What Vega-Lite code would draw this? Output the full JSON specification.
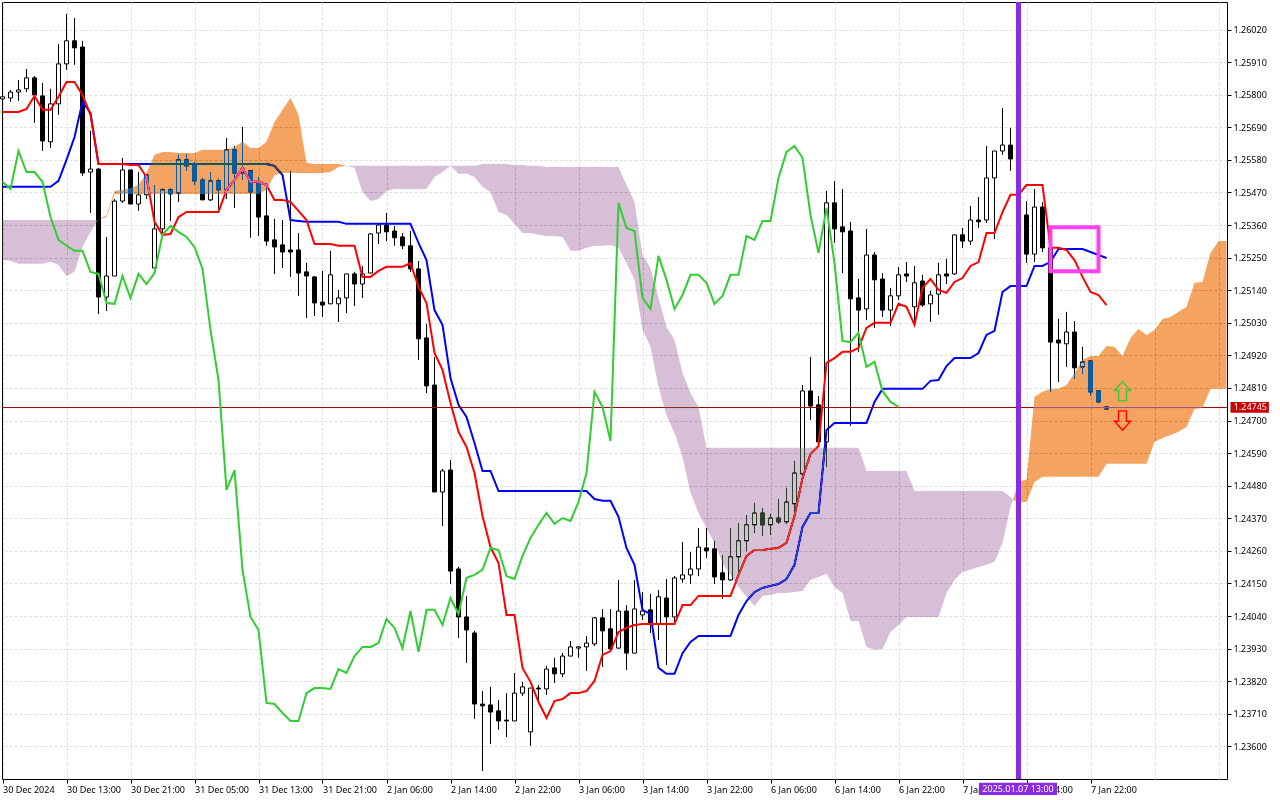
{
"$schema":"https://vega.github.io/schema/vega-lite/v6.json",
"width":1225,"height":777,
"autosize":"none",
"padding":{"left":2,"top":2,"right":53,"bottom":21},
"background":"white",
"config":{"view":{"stroke":"black","strokeWidth":1},
 "scale":{"continuousPadding":0},
 "axis":{"labelFont":"Noto Sans","labelFontSize":9,"labelColor":"black","tickColor":"black","domain":false,"title":null,
  "grid":true,"gridColor":"#dedede","gridDash":[3,2],"gridWidth":1,"tickSize":4,"labelOverlap":false,"labelBound":false,"labelFlush":false}},
"datasets":{
"bars":[
{"bar":0,"open":1.25786,"high":1.25796,"low":1.25782,"close":1.25793,"tenkan":1.25742,"kijun":1.25489,"chikou":1.25506},
{"bar":1,"open":1.25789,"high":1.25816,"low":1.25776,"close":1.25809,"tenkan":1.25742,"kijun":1.25489,"chikou":1.25482},
{"bar":2,"open":1.25809,"high":1.25850,"low":1.25779,"close":1.25816,"tenkan":1.25742,"kijun":1.25489,"chikou":1.25610},
{"bar":3,"open":1.25820,"high":1.25887,"low":1.25809,"close":1.25857,"tenkan":1.25752,"kijun":1.25489,"chikou":1.25539},
{"bar":4,"open":1.25857,"high":1.25863,"low":1.25705,"close":1.25799,"tenkan":1.25796,"kijun":1.25489,"chikou":1.25539},
{"bar":5,"open":1.25796,"high":1.25840,"low":1.25610,"close":1.25644,"tenkan":1.25749,"kijun":1.25489,"chikou":1.25506},
{"bar":6,"open":1.25641,"high":1.25820,"low":1.25620,"close":1.25769,"tenkan":1.25749,"kijun":1.25489,"chikou":1.25387},
{"bar":7,"open":1.25769,"high":1.25971,"low":1.25732,"close":1.25904,"tenkan":1.25793,"kijun":1.25509,"chikou":1.25310},
{"bar":8,"open":1.25904,"high":1.26073,"low":1.25884,"close":1.25982,"tenkan":1.25843,"kijun":1.25580,"chikou":1.25290},
{"bar":9,"open":1.25982,"high":1.26059,"low":1.25901,"close":1.25958,"tenkan":1.25843,"kijun":1.25657,"chikou":1.25273},
{"bar":10,"open":1.25961,"high":1.25982,"low":1.25526,"close":1.25536,"tenkan":1.25799,"kijun":1.25776,"chikou":1.25273},
{"bar":11,"open":1.25539,"high":1.25678,"low":1.25401,"close":1.25549,"tenkan":1.25732,"kijun":1.25739,"chikou":1.25202},
{"bar":12,"open":1.25549,"high":1.25553,"low":1.25060,"close":1.25117,"tenkan":1.25566,"kijun":1.25566,"chikou":1.25195},
{"bar":13,"open":1.25117,"high":1.25320,"low":1.25070,"close":1.25188,"tenkan":1.25566,"kijun":1.25566,"chikou":1.25097},
{"bar":14,"open":1.25188,"high":1.25448,"low":1.25188,"close":1.25441,"tenkan":1.25566,"kijun":1.25566,"chikou":1.25094},
{"bar":15,"open":1.25441,"high":1.25587,"low":1.25435,"close":1.25546,"tenkan":1.25566,"kijun":1.25566,"chikou":1.25188},
{"bar":16,"open":1.25546,"high":1.25546,"low":1.25431,"close":1.25431,"tenkan":1.25563,"kijun":1.25566,"chikou":1.25114},
{"bar":17,"open":1.25431,"high":1.25539,"low":1.25408,"close":1.25462,"tenkan":1.25563,"kijun":1.25566,"chikou":1.25195},
{"bar":18,"open":1.25462,"high":1.25529,"low":1.25448,"close":1.25529,"tenkan":1.25522,"kijun":1.25566,"chikou":1.25161},
{"bar":19,"open":1.25215,"high":1.25495,"low":1.25215,"close":1.25347,"tenkan":1.25371,"kijun":1.25566,"chikou":1.25198},
{"bar":20,"open":1.25347,"high":1.25485,"low":1.25320,"close":1.25479,"tenkan":1.25327,"kijun":1.25566,"chikou":1.25327},
{"bar":21,"open":1.25479,"high":1.25485,"low":1.25374,"close":1.25465,"tenkan":1.25330,"kijun":1.25566,"chikou":1.25357},
{"bar":22,"open":1.25468,"high":1.25597,"low":1.25438,"close":1.25580,"tenkan":1.25387,"kijun":1.25566,"chikou":1.25337},
{"bar":23,"open":1.25580,"high":1.25600,"low":1.25543,"close":1.25560,"tenkan":1.25404,"kijun":1.25566,"chikou":1.25320},
{"bar":24,"open":1.25563,"high":1.25573,"low":1.25495,"close":1.25509,"tenkan":1.25404,"kijun":1.25566,"chikou":1.25286},
{"bar":25,"open":1.25512,"high":1.25519,"low":1.25445,"close":1.25445,"tenkan":1.25404,"kijun":1.25566,"chikou":1.25212},
{"bar":26,"open":1.25445,"high":1.25539,"low":1.25441,"close":1.25509,"tenkan":1.25404,"kijun":1.25566,"chikou":1.25006},
{"bar":27,"open":1.25509,"high":1.25516,"low":1.25414,"close":1.25479,"tenkan":1.25404,"kijun":1.25566,"chikou":1.24837},
{"bar":28,"open":1.25479,"high":1.25654,"low":1.25448,"close":1.25614,"tenkan":1.25479,"kijun":1.25566,"chikou":1.24466},
{"bar":29,"open":1.25614,"high":1.25627,"low":1.25418,"close":1.25536,"tenkan":1.25512,"kijun":1.25566,"chikou":1.24533},
{"bar":30,"open":1.25536,"high":1.25691,"low":1.25512,"close":1.25549,"tenkan":1.25553,"kijun":1.25566,"chikou":1.24196},
{"bar":31,"open":1.25543,"high":1.25543,"low":1.25317,"close":1.25472,"tenkan":1.25506,"kijun":1.25566,"chikou":1.24037},
{"bar":32,"open":1.25502,"high":1.25522,"low":1.25323,"close":1.25387,"tenkan":1.25506,"kijun":1.25566,"chikou":1.23993},
{"bar":33,"open":1.25391,"high":1.25502,"low":1.25290,"close":1.25306,"tenkan":1.25495,"kijun":1.25566,"chikou":1.23747},
{"bar":34,"open":1.25310,"high":1.25381,"low":1.25195,"close":1.25286,"tenkan":1.25445,"kijun":1.25560,"chikou":1.23743},
{"bar":35,"open":1.25293,"high":1.25377,"low":1.25215,"close":1.25269,"tenkan":1.25445,"kijun":1.25529,"chikou":1.23713},
{"bar":36,"open":1.25276,"high":1.25543,"low":1.25185,"close":1.25269,"tenkan":1.25438,"kijun":1.25377,"chikou":1.23686},
{"bar":37,"open":1.25276,"high":1.25333,"low":1.25121,"close":1.25198,"tenkan":1.25408,"kijun":1.25374,"chikou":1.23686},
{"bar":38,"open":1.25202,"high":1.25232,"low":1.25046,"close":1.25188,"tenkan":1.25377,"kijun":1.25371,"chikou":1.23780},
{"bar":39,"open":1.25185,"high":1.25188,"low":1.25053,"close":1.25097,"tenkan":1.25296,"kijun":1.25371,"chikou":1.23797},
{"bar":40,"open":1.25100,"high":1.25205,"low":1.25050,"close":1.25090,"tenkan":1.25296,"kijun":1.25371,"chikou":1.23797},
{"bar":41,"open":1.25094,"high":1.25273,"low":1.25094,"close":1.25192,"tenkan":1.25296,"kijun":1.25371,"chikou":1.23794},
{"bar":42,"open":1.25094,"high":1.25141,"low":1.25033,"close":1.25114,"tenkan":1.25290,"kijun":1.25371,"chikou":1.23861},
{"bar":43,"open":1.25114,"high":1.25195,"low":1.25063,"close":1.25195,"tenkan":1.25290,"kijun":1.25364,"chikou":1.23848},
{"bar":44,"open":1.25195,"high":1.25202,"low":1.25087,"close":1.25161,"tenkan":1.25290,"kijun":1.25364,"chikou":1.23905},
{"bar":45,"open":1.25161,"high":1.25222,"low":1.25114,"close":1.25195,"tenkan":1.25185,"kijun":1.25364,"chikou":1.23936},
{"bar":46,"open":1.25198,"high":1.25333,"low":1.25198,"close":1.25330,"tenkan":1.25185,"kijun":1.25364,"chikou":1.23936},
{"bar":47,"open":1.25333,"high":1.25364,"low":1.25296,"close":1.25360,"tenkan":1.25205,"kijun":1.25364,"chikou":1.23949},
{"bar":48,"open":1.25360,"high":1.25401,"low":1.25306,"close":1.25337,"tenkan":1.25219,"kijun":1.25364,"chikou":1.24030},
{"bar":49,"open":1.25340,"high":1.25357,"low":1.25290,"close":1.25317,"tenkan":1.25219,"kijun":1.25364,"chikou":1.24000},
{"bar":50,"open":1.25320,"high":1.25333,"low":1.25279,"close":1.25290,"tenkan":1.25219,"kijun":1.25364,"chikou":1.23932},
{"bar":51,"open":1.25290,"high":1.25340,"low":1.25202,"close":1.25212,"tenkan":1.25232,"kijun":1.25364,"chikou":1.24057},
{"bar":52,"open":1.25212,"high":1.25239,"low":1.24905,"close":1.24976,"tenkan":1.25151,"kijun":1.25300,"chikou":1.23919},
{"bar":53,"open":1.24979,"high":1.25026,"low":1.24793,"close":1.24817,"tenkan":1.25097,"kijun":1.25242,"chikou":1.24061},
{"bar":54,"open":1.24820,"high":1.24915,"low":1.24459,"close":1.24459,"tenkan":1.24928,"kijun":1.25073,"chikou":1.24061},
{"bar":55,"open":1.24459,"high":1.24537,"low":1.24344,"close":1.24530,"tenkan":1.24871,"kijun":1.25023,"chikou":1.24010},
{"bar":56,"open":1.24533,"high":1.24567,"low":1.24148,"close":1.24192,"tenkan":1.24759,"kijun":1.24844,"chikou":1.24101},
{"bar":57,"open":1.24199,"high":1.24206,"low":1.23966,"close":1.24037,"tenkan":1.24662,"kijun":1.24753,"chikou":1.24047},
{"bar":58,"open":1.24037,"high":1.24108,"low":1.23882,"close":1.23993,"tenkan":1.24611,"kijun":1.24712,"chikou":1.24169},
{"bar":59,"open":1.23983,"high":1.23990,"low":1.23693,"close":1.23743,"tenkan":1.24523,"kijun":1.24624,"chikou":1.24179},
{"bar":60,"open":1.23743,"high":1.23787,"low":1.23517,"close":1.23737,"tenkan":1.24378,"kijun":1.24530,"chikou":1.24196},
{"bar":61,"open":1.23740,"high":1.23801,"low":1.23608,"close":1.23716,"tenkan":1.24273,"kijun":1.24530,"chikou":1.24270},
{"bar":62,"open":1.23720,"high":1.23757,"low":1.23656,"close":1.23686,"tenkan":1.24219,"kijun":1.24462,"chikou":1.24263},
{"bar":63,"open":1.23689,"high":1.23780,"low":1.23632,"close":1.23686,"tenkan":1.24044,"kijun":1.24462,"chikou":1.24175},
{"bar":64,"open":1.23686,"high":1.23848,"low":1.23686,"close":1.23780,"tenkan":1.24044,"kijun":1.24462,"chikou":1.24165},
{"bar":65,"open":1.23780,"high":1.23818,"low":1.23770,"close":1.23801,"tenkan":1.23865,"kijun":1.24462,"chikou":1.24243},
{"bar":66,"open":1.23649,"high":1.23797,"low":1.23602,"close":1.23797,"tenkan":1.23818,"kijun":1.24462,"chikou":1.24304},
{"bar":67,"open":1.23797,"high":1.23807,"low":1.23757,"close":1.23794,"tenkan":1.23750,"kijun":1.24462,"chikou":1.24348},
{"bar":68,"open":1.23794,"high":1.23872,"low":1.23774,"close":1.23861,"tenkan":1.23696,"kijun":1.24462,"chikou":1.24388},
{"bar":69,"open":1.23865,"high":1.23899,"low":1.23814,"close":1.23845,"tenkan":1.23753,"kijun":1.24462,"chikou":1.24351},
{"bar":70,"open":1.23845,"high":1.23915,"low":1.23834,"close":1.23905,"tenkan":1.23760,"kijun":1.24462,"chikou":1.24371},
{"bar":71,"open":1.23905,"high":1.23956,"low":1.23905,"close":1.23936,"tenkan":1.23780,"kijun":1.24462,"chikou":1.24361},
{"bar":72,"open":1.23932,"high":1.23939,"low":1.23899,"close":1.23936,"tenkan":1.23780,"kijun":1.24462,"chikou":1.24425},
{"bar":73,"open":1.23936,"high":1.23973,"low":1.23855,"close":1.23949,"tenkan":1.23787,"kijun":1.24462,"chikou":1.24523},
{"bar":74,"open":1.23946,"high":1.24037,"low":1.23939,"close":1.24034,"tenkan":1.23821,"kijun":1.24435,"chikou":1.24797},
{"bar":75,"open":1.24034,"high":1.24064,"low":1.23868,"close":1.23990,"tenkan":1.23909,"kijun":1.24429,"chikou":1.24746},
{"bar":76,"open":1.23997,"high":1.24064,"low":1.23926,"close":1.23929,"tenkan":1.23922,"kijun":1.24429,"chikou":1.24631},
{"bar":77,"open":1.23932,"high":1.24162,"low":1.23929,"close":1.24057,"tenkan":1.23986,"kijun":1.24375,"chikou":1.25435},
{"bar":78,"open":1.24057,"high":1.24077,"low":1.23858,"close":1.23915,"tenkan":1.24000,"kijun":1.24270,"chikou":1.25350},
{"bar":79,"open":1.23915,"high":1.24162,"low":1.23915,"close":1.24064,"tenkan":1.24010,"kijun":1.24213,"chikou":1.25340},
{"bar":80,"open":1.24044,"high":1.24121,"low":1.24027,"close":1.24057,"tenkan":1.24013,"kijun":1.24061,"chikou":1.25114},
{"bar":81,"open":1.24061,"high":1.24115,"low":1.23983,"close":1.24013,"tenkan":1.24013,"kijun":1.24047,"chikou":1.25077},
{"bar":82,"open":1.24013,"high":1.24128,"low":1.23959,"close":1.24105,"tenkan":1.24013,"kijun":1.23865,"chikou":1.25256},
{"bar":83,"open":1.24101,"high":1.24165,"low":1.23875,"close":1.24037,"tenkan":1.24013,"kijun":1.23845,"chikou":1.25175},
{"bar":84,"open":1.24037,"high":1.24175,"low":1.24020,"close":1.24169,"tenkan":1.24013,"kijun":1.23845,"chikou":1.25077},
{"bar":85,"open":1.24165,"high":1.24290,"low":1.24152,"close":1.24179,"tenkan":1.24077,"kijun":1.23915,"chikou":1.25124},
{"bar":86,"open":1.24179,"high":1.24256,"low":1.24148,"close":1.24199,"tenkan":1.24077,"kijun":1.23953,"chikou":1.25192},
{"bar":87,"open":1.24199,"high":1.24337,"low":1.24175,"close":1.24273,"tenkan":1.24108,"kijun":1.23973,"chikou":1.25192},
{"bar":88,"open":1.24270,"high":1.24337,"low":1.24236,"close":1.24260,"tenkan":1.24108,"kijun":1.23973,"chikou":1.25165},
{"bar":89,"open":1.24267,"high":1.24294,"low":1.24148,"close":1.24172,"tenkan":1.24108,"kijun":1.23973,"chikou":1.25094},
{"bar":90,"open":1.24186,"high":1.24246,"low":1.24098,"close":1.24162,"tenkan":1.24108,"kijun":1.23973,"chikou":1.25121},
{"bar":91,"open":1.24162,"high":1.24337,"low":1.24159,"close":1.24240,"tenkan":1.24108,"kijun":1.23973,"chikou":1.25192},
{"bar":92,"open":1.24240,"high":1.24354,"low":1.24186,"close":1.24294,"tenkan":1.24179,"kijun":1.24044,"chikou":1.25192},
{"bar":93,"open":1.24294,"high":1.24381,"low":1.24260,"close":1.24348,"tenkan":1.24243,"kijun":1.24091,"chikou":1.25323},
{"bar":94,"open":1.24348,"high":1.24422,"low":1.24321,"close":1.24388,"tenkan":1.24263,"kijun":1.24121,"chikou":1.25310},
{"bar":95,"open":1.24388,"high":1.24405,"low":1.24310,"close":1.24348,"tenkan":1.24263,"kijun":1.24135,"chikou":1.25374},
{"bar":96,"open":1.24348,"high":1.24385,"low":1.24314,"close":1.24371,"tenkan":1.24267,"kijun":1.24142,"chikou":1.25374},
{"bar":97,"open":1.24371,"high":1.24435,"low":1.24351,"close":1.24358,"tenkan":1.24270,"kijun":1.24148,"chikou":1.25519},
{"bar":98,"open":1.24358,"high":1.24473,"low":1.24351,"close":1.24425,"tenkan":1.24287,"kijun":1.24165,"chikou":1.25607},
{"bar":99,"open":1.24419,"high":1.24564,"low":1.24375,"close":1.24523,"tenkan":1.24378,"kijun":1.24213,"chikou":1.25627},
{"bar":100,"open":1.24520,"high":1.24820,"low":1.24520,"close":1.24800,"tenkan":1.24506,"kijun":1.24341,"chikou":1.25587},
{"bar":101,"open":1.24800,"high":1.24915,"low":1.24702,"close":1.24749,"tenkan":1.24587,"kijun":1.24388,"chikou":1.25394},
{"bar":102,"open":1.24753,"high":1.24783,"low":1.24628,"close":1.24628,"tenkan":1.24614,"kijun":1.24388,"chikou":1.25266},
{"bar":103,"open":1.24628,"high":1.25475,"low":1.24543,"close":1.25435,"tenkan":1.24895,"kijun":1.24668,"chikou":1.25418},
{"bar":104,"open":1.25435,"high":1.25509,"low":1.25300,"close":1.25347,"tenkan":1.24911,"kijun":1.24692,"chikou":1.25232},
{"bar":105,"open":1.25354,"high":1.25482,"low":1.25198,"close":1.25337,"tenkan":1.24932,"kijun":1.24692,"chikou":1.24969},
{"bar":106,"open":1.25340,"high":1.25371,"low":1.24682,"close":1.25111,"tenkan":1.24932,"kijun":1.24692,"chikou":1.24965},
{"bar":107,"open":1.25114,"high":1.25178,"low":1.24932,"close":1.25073,"tenkan":1.24945,"kijun":1.24692,"chikou":1.24996},
{"bar":108,"open":1.25077,"high":1.25347,"low":1.25040,"close":1.25259,"tenkan":1.25013,"kijun":1.24692,"chikou":1.24881},
{"bar":109,"open":1.25259,"high":1.25269,"low":1.25013,"close":1.25175,"tenkan":1.25030,"kijun":1.24763,"chikou":1.24898},
{"bar":110,"open":1.25178,"high":1.25198,"low":1.25050,"close":1.25073,"tenkan":1.25030,"kijun":1.24807,"chikou":1.24800},
{"bar":111,"open":1.25073,"high":1.25148,"low":1.25019,"close":1.25121,"tenkan":1.25030,"kijun":1.24807,"chikou":1.24763},
{"bar":112,"open":1.25121,"high":1.25219,"low":1.25107,"close":1.25192,"tenkan":1.25094,"kijun":1.24807,"chikou":1.24746},
{"bar":113,"open":1.25195,"high":1.25235,"low":1.25168,"close":1.25188,"tenkan":1.25084,"kijun":1.24807},
{"bar":114,"open":1.25084,"high":1.25222,"low":1.25019,"close":1.25165,"tenkan":1.25023,"kijun":1.24807},
{"bar":115,"open":1.25171,"high":1.25192,"low":1.25084,"close":1.25090,"tenkan":1.25148,"kijun":1.24807},
{"bar":116,"open":1.25094,"high":1.25138,"low":1.25033,"close":1.25124,"tenkan":1.25178,"kijun":1.24834},
{"bar":117,"open":1.25127,"high":1.25232,"low":1.25057,"close":1.25192,"tenkan":1.25141,"kijun":1.24837},
{"bar":118,"open":1.25195,"high":1.25246,"low":1.25161,"close":1.25188,"tenkan":1.25131,"kijun":1.24884},
{"bar":119,"open":1.25195,"high":1.25327,"low":1.25192,"close":1.25327,"tenkan":1.25168,"kijun":1.24911},
{"bar":120,"open":1.25327,"high":1.25350,"low":1.25283,"close":1.25306,"tenkan":1.25181,"kijun":1.24911},
{"bar":121,"open":1.25306,"high":1.25425,"low":1.25293,"close":1.25377,"tenkan":1.25222,"kijun":1.24911},
{"bar":122,"open":1.25377,"high":1.25455,"low":1.25350,"close":1.25371,"tenkan":1.25235,"kijun":1.24928},
{"bar":123,"open":1.25377,"high":1.25627,"low":1.25367,"close":1.25519,"tenkan":1.25333,"kijun":1.24989},
{"bar":124,"open":1.25519,"high":1.25610,"low":1.25313,"close":1.25610,"tenkan":1.25333,"kijun":1.25003},
{"bar":125,"open":1.25610,"high":1.25755,"low":1.25597,"close":1.25630,"tenkan":1.25404,"kijun":1.25134},
{"bar":126,"open":1.25630,"high":1.25688,"low":1.25543,"close":1.25583,"tenkan":1.25462,"kijun":1.25154},
{"bar":127,"open":1.25583,"high":1.25614,"low":1.25360,"close":1.25394,"tenkan":1.25462,"kijun":1.25154},
{"bar":128,"open":1.25394,"high":1.25441,"low":1.25232,"close":1.25262,"tenkan":1.25495,"kijun":1.25154},
{"bar":129,"open":1.25262,"high":1.25482,"low":1.25235,"close":1.25421,"tenkan":1.25495,"kijun":1.25222},
{"bar":130,"open":1.25421,"high":1.25438,"low":1.25269,"close":1.25283,"tenkan":1.25495,"kijun":1.25222},
{"bar":131,"open":1.25283,"high":1.25310,"low":1.24797,"close":1.24965,"tenkan":1.25283,"kijun":1.25236},
{"bar":132,"open":1.24972,"high":1.25043,"low":1.24830,"close":1.24962,"tenkan":1.25283,"kijun":1.25279},
{"bar":133,"open":1.24959,"high":1.25067,"low":1.24881,"close":1.24999,"tenkan":1.25276,"kijun":1.25279},
{"bar":134,"open":1.24999,"high":1.25036,"low":1.24840,"close":1.24878,"tenkan":1.25242,"kijun":1.25279},
{"bar":135,"open":1.24881,"high":1.24949,"low":1.24857,"close":1.24898,"tenkan":1.25185,"kijun":1.25279},
{"bar":136,"open":1.24901,"high":1.24901,"low":1.24783,"close":1.24797,"tenkan":1.25134,"kijun":1.25269},
{"bar":137,"open":1.24800,"high":1.24803,"low":1.24763,"close":1.24763,"tenkan":1.25124,"kijun":1.25259},
{"bar":138,"open":1.24746,"high":1.24749,"low":1.24739,"close":1.24739,"tenkan":1.25090,"kijun":1.25249}
],
"cloud":[
{"bar":0,"upper":1.25377,"lower":1.25242,"phase":"bear","seg":1},
{"bar":1,"upper":1.25377,"lower":1.25239,"phase":"bear","seg":1},
{"bar":2,"upper":1.25377,"lower":1.25229,"phase":"bear","seg":1},
{"bar":3,"upper":1.25377,"lower":1.25229,"phase":"bear","seg":1},
{"bar":4,"upper":1.25377,"lower":1.25229,"phase":"bear","seg":1},
{"bar":5,"upper":1.25377,"lower":1.25229,"phase":"bear","seg":1},
{"bar":6,"upper":1.25377,"lower":1.25236,"phase":"bear","seg":1},
{"bar":7,"upper":1.25377,"lower":1.25225,"phase":"bear","seg":1},
{"bar":8,"upper":1.25377,"lower":1.25188,"phase":"bear","seg":1},
{"bar":9,"upper":1.25377,"lower":1.25202,"phase":"bear","seg":1},
{"bar":10,"upper":1.25377,"lower":1.25286,"phase":"bear","seg":1},
{"bar":11,"upper":1.25377,"lower":1.25337,"phase":"bear","seg":1},
{"bar":12,"upper":1.25377,"lower":1.25377,"phase":"bear","seg":1},
{"bar":12,"upper":1.25377,"lower":1.25377,"phase":"bull","seg":2},
{"bar":13,"upper":1.25394,"lower":1.25387,"phase":"bull","seg":2},
{"bar":14,"upper":1.25475,"lower":1.25465,"phase":"bull","seg":2},
{"bar":15,"upper":1.25479,"lower":1.25465,"phase":"bull","seg":2},
{"bar":16,"upper":1.25485,"lower":1.25465,"phase":"bull","seg":2},
{"bar":17,"upper":1.25495,"lower":1.25465,"phase":"bull","seg":2},
{"bar":18,"upper":1.25536,"lower":1.25465,"phase":"bull","seg":2},
{"bar":19,"upper":1.25597,"lower":1.25465,"phase":"bull","seg":2},
{"bar":20,"upper":1.25607,"lower":1.25465,"phase":"bull","seg":2},
{"bar":21,"upper":1.25607,"lower":1.25465,"phase":"bull","seg":2},
{"bar":22,"upper":1.25603,"lower":1.25465,"phase":"bull","seg":2},
{"bar":23,"upper":1.25603,"lower":1.25465,"phase":"bull","seg":2},
{"bar":24,"upper":1.25603,"lower":1.25465,"phase":"bull","seg":2},
{"bar":25,"upper":1.25614,"lower":1.25465,"phase":"bull","seg":2},
{"bar":26,"upper":1.25614,"lower":1.25465,"phase":"bull","seg":2},
{"bar":27,"upper":1.25614,"lower":1.25465,"phase":"bull","seg":2},
{"bar":28,"upper":1.25614,"lower":1.25465,"phase":"bull","seg":2},
{"bar":29,"upper":1.25624,"lower":1.25465,"phase":"bull","seg":2},
{"bar":30,"upper":1.25641,"lower":1.25465,"phase":"bull","seg":2},
{"bar":31,"upper":1.25620,"lower":1.25465,"phase":"bull","seg":2},
{"bar":32,"upper":1.25620,"lower":1.25465,"phase":"bull","seg":2},
{"bar":33,"upper":1.25641,"lower":1.25479,"phase":"bull","seg":2},
{"bar":34,"upper":1.25708,"lower":1.25529,"phase":"bull","seg":2},
{"bar":35,"upper":1.25749,"lower":1.25536,"phase":"bull","seg":2},
{"bar":36,"upper":1.25789,"lower":1.25536,"phase":"bull","seg":2},
{"bar":37,"upper":1.25732,"lower":1.25536,"phase":"bull","seg":2},
{"bar":38,"upper":1.25570,"lower":1.25536,"phase":"bull","seg":2},
{"bar":39,"upper":1.25566,"lower":1.25536,"phase":"bull","seg":2},
{"bar":40,"upper":1.25566,"lower":1.25536,"phase":"bull","seg":2},
{"bar":41,"upper":1.25566,"lower":1.25539,"phase":"bull","seg":2},
{"bar":42,"upper":1.25566,"lower":1.25556,"phase":"bull","seg":2},
{"bar":43,"upper":1.25560,"lower":1.25560,"phase":"bull","seg":2},
{"bar":43,"upper":1.25560,"lower":1.25560,"phase":"bear","seg":3},
{"bar":44,"upper":1.25560,"lower":1.25553,"phase":"bear","seg":3},
{"bar":45,"upper":1.25560,"lower":1.25472,"phase":"bear","seg":3},
{"bar":46,"upper":1.25560,"lower":1.25441,"phase":"bear","seg":3},
{"bar":47,"upper":1.25560,"lower":1.25448,"phase":"bear","seg":3},
{"bar":48,"upper":1.25560,"lower":1.25475,"phase":"bear","seg":3},
{"bar":49,"upper":1.25560,"lower":1.25482,"phase":"bear","seg":3},
{"bar":50,"upper":1.25560,"lower":1.25482,"phase":"bear","seg":3},
{"bar":51,"upper":1.25560,"lower":1.25482,"phase":"bear","seg":3},
{"bar":52,"upper":1.25560,"lower":1.25482,"phase":"bear","seg":3},
{"bar":53,"upper":1.25560,"lower":1.25482,"phase":"bear","seg":3},
{"bar":54,"upper":1.25560,"lower":1.25522,"phase":"bear","seg":3},
{"bar":55,"upper":1.25560,"lower":1.25539,"phase":"bear","seg":3},
{"bar":56,"upper":1.25560,"lower":1.25560,"phase":"bear","seg":3},
{"bar":57,"upper":1.25560,"lower":1.25533,"phase":"bear","seg":3},
{"bar":58,"upper":1.25560,"lower":1.25533,"phase":"bear","seg":3},
{"bar":59,"upper":1.25560,"lower":1.25522,"phase":"bear","seg":3},
{"bar":60,"upper":1.25566,"lower":1.25489,"phase":"bear","seg":3},
{"bar":61,"upper":1.25566,"lower":1.25472,"phase":"bear","seg":3},
{"bar":62,"upper":1.25566,"lower":1.25404,"phase":"bear","seg":3},
{"bar":63,"upper":1.25566,"lower":1.25394,"phase":"bear","seg":3},
{"bar":64,"upper":1.25563,"lower":1.25364,"phase":"bear","seg":3},
{"bar":65,"upper":1.25563,"lower":1.25333,"phase":"bear","seg":3},
{"bar":66,"upper":1.25560,"lower":1.25333,"phase":"bear","seg":3},
{"bar":67,"upper":1.25560,"lower":1.25327,"phase":"bear","seg":3},
{"bar":68,"upper":1.25556,"lower":1.25323,"phase":"bear","seg":3},
{"bar":69,"upper":1.25556,"lower":1.25323,"phase":"bear","seg":3},
{"bar":70,"upper":1.25556,"lower":1.25320,"phase":"bear","seg":3},
{"bar":71,"upper":1.25556,"lower":1.25273,"phase":"bear","seg":3},
{"bar":72,"upper":1.25556,"lower":1.25273,"phase":"bear","seg":3},
{"bar":73,"upper":1.25556,"lower":1.25283,"phase":"bear","seg":3},
{"bar":74,"upper":1.25556,"lower":1.25290,"phase":"bear","seg":3},
{"bar":75,"upper":1.25556,"lower":1.25290,"phase":"bear","seg":3},
{"bar":76,"upper":1.25556,"lower":1.25293,"phase":"bear","seg":3},
{"bar":77,"upper":1.25556,"lower":1.25283,"phase":"bear","seg":3},
{"bar":78,"upper":1.25495,"lower":1.25232,"phase":"bear","seg":3},
{"bar":79,"upper":1.25438,"lower":1.25175,"phase":"bear","seg":3},
{"bar":80,"upper":1.25259,"lower":1.25006,"phase":"bear","seg":3},
{"bar":81,"upper":1.25215,"lower":1.24949,"phase":"bear","seg":3},
{"bar":82,"upper":1.25114,"lower":1.24813,"phase":"bear","seg":3},
{"bar":83,"upper":1.25016,"lower":1.24719,"phase":"bear","seg":3},
{"bar":84,"upper":1.24972,"lower":1.24658,"phase":"bear","seg":3},
{"bar":85,"upper":1.24861,"lower":1.24577,"phase":"bear","seg":3},
{"bar":86,"upper":1.24793,"lower":1.24456,"phase":"bear","seg":3},
{"bar":87,"upper":1.24746,"lower":1.24388,"phase":"bear","seg":3},
{"bar":88,"upper":1.24608,"lower":1.24337,"phase":"bear","seg":3},
{"bar":89,"upper":1.24608,"lower":1.24287,"phase":"bear","seg":3},
{"bar":90,"upper":1.24608,"lower":1.24219,"phase":"bear","seg":3},
{"bar":91,"upper":1.24608,"lower":1.24179,"phase":"bear","seg":3},
{"bar":92,"upper":1.24608,"lower":1.24138,"phase":"bear","seg":3},
{"bar":93,"upper":1.24608,"lower":1.24105,"phase":"bear","seg":3},
{"bar":94,"upper":1.24608,"lower":1.24074,"phase":"bear","seg":3},
{"bar":95,"upper":1.24608,"lower":1.24108,"phase":"bear","seg":3},
{"bar":96,"upper":1.24608,"lower":1.24111,"phase":"bear","seg":3},
{"bar":97,"upper":1.24608,"lower":1.24118,"phase":"bear","seg":3},
{"bar":98,"upper":1.24608,"lower":1.24118,"phase":"bear","seg":3},
{"bar":99,"upper":1.24608,"lower":1.24121,"phase":"bear","seg":3},
{"bar":100,"upper":1.24608,"lower":1.24125,"phase":"bear","seg":3},
{"bar":101,"upper":1.24608,"lower":1.24162,"phase":"bear","seg":3},
{"bar":102,"upper":1.24608,"lower":1.24172,"phase":"bear","seg":3},
{"bar":103,"upper":1.24608,"lower":1.24182,"phase":"bear","seg":3},
{"bar":104,"upper":1.24608,"lower":1.24138,"phase":"bear","seg":3},
{"bar":105,"upper":1.24608,"lower":1.24118,"phase":"bear","seg":3},
{"bar":106,"upper":1.24608,"lower":1.24023,"phase":"bear","seg":3},
{"bar":107,"upper":1.24608,"lower":1.24023,"phase":"bear","seg":3},
{"bar":108,"upper":1.24530,"lower":1.23936,"phase":"bear","seg":3},
{"bar":109,"upper":1.24530,"lower":1.23926,"phase":"bear","seg":3},
{"bar":110,"upper":1.24530,"lower":1.23929,"phase":"bear","seg":3},
{"bar":111,"upper":1.24530,"lower":1.23986,"phase":"bear","seg":3},
{"bar":112,"upper":1.24530,"lower":1.24010,"phase":"bear","seg":3},
{"bar":113,"upper":1.24530,"lower":1.24037,"phase":"bear","seg":3},
{"bar":114,"upper":1.24462,"lower":1.24037,"phase":"bear","seg":3},
{"bar":115,"upper":1.24462,"lower":1.24037,"phase":"bear","seg":3},
{"bar":116,"upper":1.24462,"lower":1.24037,"phase":"bear","seg":3},
{"bar":117,"upper":1.24462,"lower":1.24037,"phase":"bear","seg":3},
{"bar":118,"upper":1.24462,"lower":1.24118,"phase":"bear","seg":3},
{"bar":119,"upper":1.24462,"lower":1.24162,"phase":"bear","seg":3},
{"bar":120,"upper":1.24462,"lower":1.24189,"phase":"bear","seg":3},
{"bar":121,"upper":1.24462,"lower":1.24196,"phase":"bear","seg":3},
{"bar":122,"upper":1.24462,"lower":1.24206,"phase":"bear","seg":3},
{"bar":123,"upper":1.24462,"lower":1.24213,"phase":"bear","seg":3},
{"bar":124,"upper":1.24462,"lower":1.24223,"phase":"bear","seg":3},
{"bar":125,"upper":1.24462,"lower":1.24287,"phase":"bear","seg":3},
{"bar":126,"upper":1.24442,"lower":1.24408,"phase":"bear","seg":3},
{"bar":126.3,"upper":1.24432,"lower":1.24432,"phase":"bear","seg":3},
{"bar":126.3,"upper":1.24432,"lower":1.24432,"phase":"bull","seg":4},
{"bar":127,"upper":1.24496,"lower":1.24425,"phase":"bull","seg":4},
{"bar":128,"upper":1.24500,"lower":1.24425,"phase":"bull","seg":4},
{"bar":129,"upper":1.24780,"lower":1.24493,"phase":"bull","seg":4},
{"bar":130,"upper":1.24797,"lower":1.24510,"phase":"bull","seg":4},
{"bar":131,"upper":1.24807,"lower":1.24510,"phase":"bull","seg":4},
{"bar":132,"upper":1.24807,"lower":1.24510,"phase":"bull","seg":4},
{"bar":133,"upper":1.24820,"lower":1.24510,"phase":"bull","seg":4},
{"bar":134,"upper":1.24861,"lower":1.24510,"phase":"bull","seg":4},
{"bar":135,"upper":1.24905,"lower":1.24510,"phase":"bull","seg":4},
{"bar":136,"upper":1.24918,"lower":1.24510,"phase":"bull","seg":4},
{"bar":137,"upper":1.24918,"lower":1.24510,"phase":"bull","seg":4},
{"bar":138,"upper":1.24952,"lower":1.24554,"phase":"bull","seg":4},
{"bar":139,"upper":1.24949,"lower":1.24554,"phase":"bull","seg":4},
{"bar":140,"upper":1.24918,"lower":1.24554,"phase":"bull","seg":4},
{"bar":141,"upper":1.24979,"lower":1.24554,"phase":"bull","seg":4},
{"bar":142,"upper":1.25009,"lower":1.24554,"phase":"bull","seg":4},
{"bar":143,"upper":1.24989,"lower":1.24554,"phase":"bull","seg":4},
{"bar":144,"upper":1.25006,"lower":1.24628,"phase":"bull","seg":4},
{"bar":145,"upper":1.25043,"lower":1.24641,"phase":"bull","seg":4},
{"bar":146,"upper":1.25050,"lower":1.24651,"phase":"bull","seg":4},
{"bar":147,"upper":1.25067,"lower":1.24662,"phase":"bull","seg":4},
{"bar":148,"upper":1.25084,"lower":1.24678,"phase":"bull","seg":4},
{"bar":149,"upper":1.25165,"lower":1.24739,"phase":"bull","seg":4},
{"bar":150,"upper":1.25168,"lower":1.24743,"phase":"bull","seg":4},
{"bar":151,"upper":1.25266,"lower":1.24807,"phase":"bull","seg":4},
{"bar":152,"upper":1.25306,"lower":1.24807,"phase":"bull","seg":4},
{"bar":153,"upper":1.25306,"lower":1.24807,"phase":"bull","seg":4}
]
},
"layer":[
{"data":{"name":"bars"},
 "mark":{"type":"rule","color":"black","strokeWidth":1},
 "encoding":{
  "x":{"field":"bar","type":"quantitative","scale":{"domain":[-0.0625,153.0625],"nice":false,"zero":false,"padding":0},
   "axis":{"orient":"bottom","values":[0,4,8,12,16,20,24,28,32,36,40,44,48,52,56,60,64,68,72,76,80,84,88,92,96,100,104,108,112,116,120,124,128,132,136,140,144,148,152],
    "tickOpacity":{"condition":{"test":"datum.value%8==0 && datum.value<=136","value":1},"value":0},
    "labelAlign":"left","labelPadding":2,"labelOverlap":false,
    "labelExpr":"datum.value%8==0 && datum.value<=136 ? ['30 Dec 2024','30 Dec 13:00','30 Dec 21:00','31 Dec 05:00','31 Dec 13:00','31 Dec 21:00','2 Jan 06:00','2 Jan 14:00','2 Jan 22:00','3 Jan 06:00','3 Jan 14:00','3 Jan 22:00','6 Jan 06:00','6 Jan 14:00','6 Jan 22:00','7 Jan 06:00','7 Jan 14:00','7 Jan 22:00'][datum.value/8] : ''"}},
  "y":{"field":"high","type":"quantitative","scale":{"domain":[1.2349,1.26113],"nice":false,"zero":false},
   "axis":{"orient":"right","format":".5f","labelAlign":"left","labelPadding":2,"labelOverlap":false,"tickCount":23,
    "values":[1.236,1.2371,1.2382,1.2393,1.2404,1.2415,1.2426,1.2437,1.2448,1.2459,1.247,1.2481,1.2492,1.2503,1.2514,1.2525,1.2536,1.2547,1.2558,1.2569,1.258,1.2591,1.2602]}},
  "y2":{"field":"low"}}},
{"data":{"name":"bars"},
 "mark":{"type":"bar","size":4,"stroke":"black","strokeWidth":1,"orient":"vertical"},
 "encoding":{
  "x":{"field":"bar","type":"quantitative","scale":{"domain":[-0.0625,153.0625],"nice":false,"zero":false,"padding":0}},
  "y":{"field":"open","type":"quantitative","scale":{"domain":[1.2349,1.26113],"nice":false,"zero":false}},
  "y2":{"field":"close"},
  "fill":{"condition":{"test":"datum.close>=datum.open","value":"white"},"value":"black"}}},
{"data":{"name":"bars"},
 "mark":{"type":"line","color":"#0000ff","strokeWidth":2,"interpolate":"linear"},
 "encoding":{
  "x":{"field":"bar","type":"quantitative","scale":{"domain":[-0.0625,153.0625],"nice":false,"zero":false,"padding":0}},
  "y":{"field":"kijun","type":"quantitative","scale":{"domain":[1.2349,1.26113],"nice":false,"zero":false}}}},
{"data":{"name":"bars"},
 "mark":{"type":"line","color":"#ff0000","strokeWidth":2},
 "encoding":{
  "x":{"field":"bar","type":"quantitative","scale":{"domain":[-0.0625,153.0625],"nice":false,"zero":false,"padding":0}},
  "y":{"field":"tenkan","type":"quantitative","scale":{"domain":[1.2349,1.26113],"nice":false,"zero":false}}}},
{"data":{"values":[{"price":1.24744}]},
 "mark":{"type":"rule","color":"#a00000","strokeWidth":1},
 "encoding":{
  "y":{"field":"price","type":"quantitative","scale":{"domain":[1.2349,1.26113],"nice":false,"zero":false}}}},
{"data":{"name":"cloud"},
 "mark":{"type":"area","blend":"difference","opacity":1},
 "encoding":{
  "x":{"field":"bar","type":"quantitative","scale":{"domain":[-0.0625,153.0625],"nice":false,"zero":false,"padding":0}},
  "y":{"field":"upper","type":"quantitative","scale":{"domain":[1.2349,1.26113],"nice":false,"zero":false}},
  "y2":{"field":"lower"},
  "detail":{"field":"seg"},
  "color":{"field":"phase","type":"nominal","scale":{"domain":["bull","bear"],"range":["#0b5b9f","#274027"]},"legend":null}}},
{"data":{"name":"bars"},
 "mark":{"type":"line","color":"#32cd32","strokeWidth":2},
 "encoding":{
  "x":{"field":"bar","type":"quantitative","scale":{"domain":[-0.0625,153.0625],"nice":false,"zero":false,"padding":0}},
  "y":{"field":"chikou","type":"quantitative","scale":{"domain":[1.2349,1.26113],"nice":false,"zero":false}}}},
{"data":{"values":[{"bar":140,"price":1.24799}]},
 "mark":{"type":"point","filled":false,"stroke":"#32cd32","strokeWidth":1.4,"opacity":1,"size":372,"shape":"M0,-1 L0.83,-0.07 L0.41,-0.07 L0.41,1 L-0.41,1 L-0.41,-0.07 L-0.83,-0.07 Z"},
 "encoding":{
  "x":{"field":"bar","type":"quantitative","scale":{"domain":[-0.0625,153.0625],"nice":false,"zero":false,"padding":0}},
  "y":{"field":"price","type":"quantitative","scale":{"domain":[1.2349,1.26113],"nice":false,"zero":false}}}},
{"data":{"values":[{"bar":140,"price":1.247}]},
 "mark":{"type":"point","filled":false,"stroke":"#ff0000","strokeWidth":1.4,"opacity":1,"size":372,"shape":"M0,1 L0.83,0.07 L0.41,0.07 L0.41,-1 L-0.41,-1 L-0.41,0.07 L-0.83,0.07 Z"},
 "encoding":{
  "x":{"field":"bar","type":"quantitative","scale":{"domain":[-0.0625,153.0625],"nice":false,"zero":false,"padding":0}},
  "y":{"field":"price","type":"quantitative","scale":{"domain":[1.2349,1.26113],"nice":false,"zero":false}}}},
{"data":{"values":[{"from":131,"to":137,"top":1.25353,"bottom":1.25204}]},
 "mark":{"type":"rect","fill":null,"stroke":"#ff40f0","strokeWidth":4},
 "encoding":{
  "x":{"field":"from","type":"quantitative","scale":{"domain":[-0.0625,153.0625],"nice":false,"zero":false,"padding":0}},
  "x2":{"field":"to"},
  "y":{"field":"top","type":"quantitative","scale":{"domain":[1.2349,1.26113],"nice":false,"zero":false}},
  "y2":{"field":"bottom"}}},
{"data":{"values":[{"bar":127}]},
 "mark":{"type":"rule","color":"#8a2be2","strokeWidth":5},
 "encoding":{
  "x":{"field":"bar","type":"quantitative","scale":{"domain":[-0.0625,153.0625],"nice":false,"zero":false,"padding":0}}}},
{"data":{"values":[{"from":122.06,"to":131.81,"top":1.23477,"bottom":1.23436}]},
 "mark":{"type":"rect","fill":"#8a2be2"},
 "encoding":{
  "x":{"field":"from","type":"quantitative","scale":{"domain":[-0.0625,153.0625],"nice":false,"zero":false,"padding":0}},
  "x2":{"field":"to"},
  "y":{"field":"top","type":"quantitative","scale":{"domain":[1.2349,1.26113],"nice":false,"zero":false}},
  "y2":{"field":"bottom"}}},
{"data":{"values":[{"bar":126.94,"price":1.234565,"label":"2025.01.07 13:00"}]},
 "mark":{"type":"text","color":"white","font":"Noto Sans","fontSize":9,"align":"center","baseline":"middle"},
 "encoding":{
  "x":{"field":"bar","type":"quantitative","scale":{"domain":[-0.0625,153.0625],"nice":false,"zero":false,"padding":0}},
  "y":{"field":"price","type":"quantitative","scale":{"domain":[1.2349,1.26113],"nice":false,"zero":false}},
  "text":{"field":"label"}}},
{"data":{"values":[{"from":153.5,"to":158.3,"top":1.24763,"bottom":1.24726}]},
 "mark":{"type":"rect","fill":"#cc0000"},
 "encoding":{
  "x":{"field":"from","type":"quantitative","scale":{"domain":[-0.0625,153.0625],"nice":false,"zero":false,"padding":0}},
  "x2":{"field":"to"},
  "y":{"field":"top","type":"quantitative","scale":{"domain":[1.2349,1.26113],"nice":false,"zero":false}},
  "y2":{"field":"bottom"}}},
{"data":{"values":[{"bar":153.9,"price":1.24745,"label":"1.24745"}]},
 "mark":{"type":"text","color":"white","font":"Noto Sans","fontSize":9,"align":"left","baseline":"middle"},
 "encoding":{
  "x":{"field":"bar","type":"quantitative","scale":{"domain":[-0.0625,153.0625],"nice":false,"zero":false,"padding":0}},
  "y":{"field":"price","type":"quantitative","scale":{"domain":[1.2349,1.26113],"nice":false,"zero":false}},
  "text":{"field":"label"}}}
]
}
